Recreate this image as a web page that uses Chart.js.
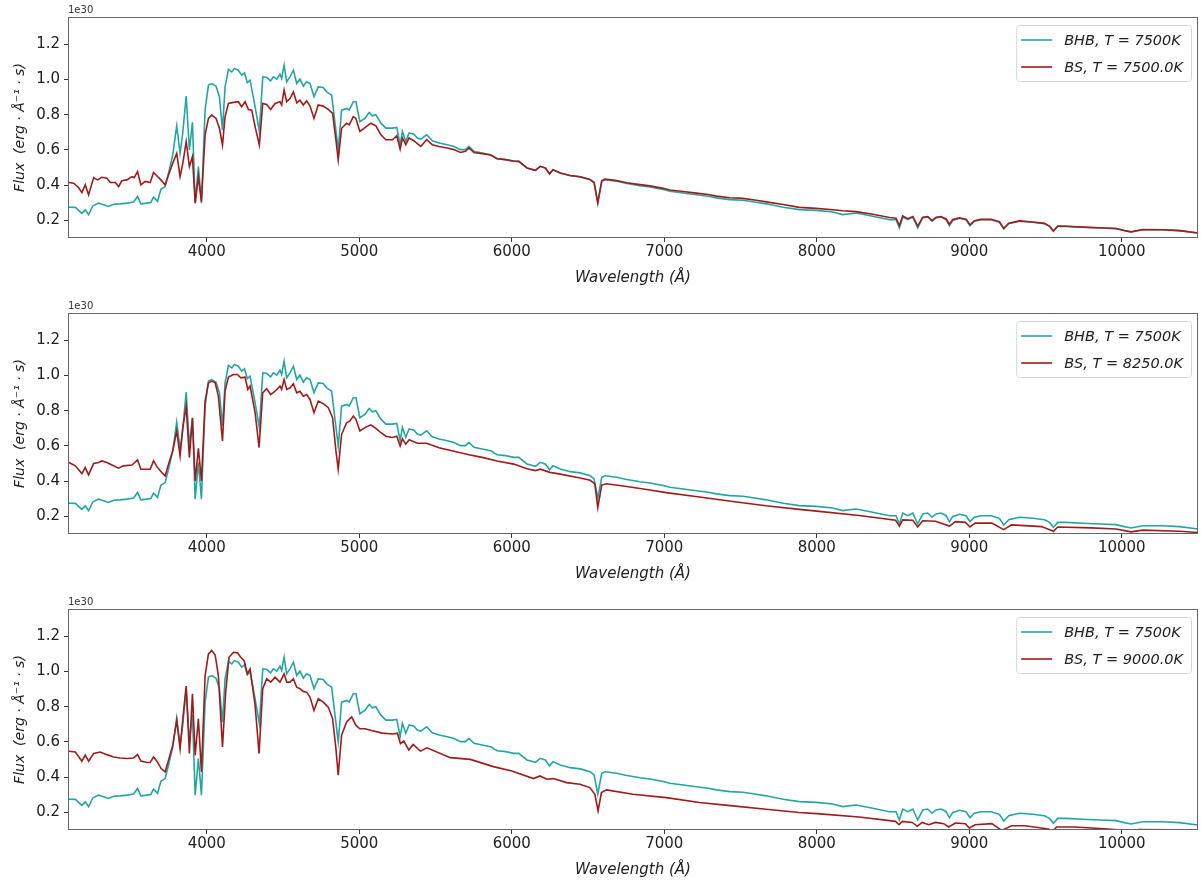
<!DOCTYPE html>
<html>
<head>
<meta charset="utf-8">
<script src="https://cdn.jsdelivr.net/npm/chart.js@4.4.0/dist/chart.umd.min.js"></script>
<style>
  body { margin: 0; background: #fff; width: 1201px; height: 883px; overflow: hidden; position: relative; }
  .panel { position: absolute; left: 0; width: 1201px; height: 296px; }
</style>
</head>
<body>
<div class="panel" style="top:0px"><canvas id="c0" width="1201" height="296"></canvas></div>
<div class="panel" style="top:296px"><canvas id="c1" width="1201" height="296"></canvas></div>
<div class="panel" style="top:592px"><canvas id="c2" width="1201" height="296"></canvas></div>
<script>
// axis ticks
const xTicks = [4000, 5000, 6000, 7000, 8000, 9000, 10000];
const yTicks = [0.2, 0.4, 0.6, 0.8, 1.0, 1.2];

// BHB spectrum, T = 7500K (flux in units of 1e30), same in every panel
const bhbWave = [3096,3138,3181,3203,3225,3253,3290,3323,3356,3389,3432,3476,3520,3546,3568,3607,3633,3651,3677,3699,3727,3749,3777,3803,3825,3841,3865,3886,3906,3924,3945,3965,3989,4011,4033,4061,4083,4103,4120,4142,4164,4181,4207,4229,4247,4266,4284,4317,4345,4367,4393,4419,4437,4459,4480,4491,4507,4524,4546,4568,4590,4611,4633,4655,4677,4703,4731,4764,4786,4819,4841,4862,4884,4917,4934,4961,4978,5004,5037,5065,5087,5109,5142,5174,5218,5246,5268,5283,5305,5327,5359,5381,5403,5442,5479,5523,5577,5621,5664,5697,5719,5752,5806,5861,5904,5959,6013,6046,6100,6155,6187,6220,6248,6270,6318,6383,6449,6514,6540,6564,6590,6612,6688,6754,6841,6906,6993,7037,7124,7211,7288,7342,7429,7516,7603,7669,7780,7886,7996,8105,8170,8258,8367,8477,8520,8542,8564,8597,8630,8662,8695,8728,8756,8783,8815,8848,8870,8892,8936,8979,9005,9034,9078,9143,9198,9226,9259,9329,9416,9493,9526,9552,9580,9635,9744,9853,9963,10017,10061,10138,10269,10378,10503];
const bhbFlux = [.275,.274,.240,.260,.232,.283,.298,.289,.279,.292,.294,.298,.304,.336,.294,.298,.302,.332,.308,.377,.392,.468,.572,.736,.581,.685,.906,.600,.757,.298,.506,.298,.826,.968,.977,.962,.902,.713,.958,1.057,1.043,1.062,1.053,1.025,1.038,.983,.996,.845,.704,1.015,1.011,.992,1.015,1.002,1.030,1.006,1.081,.987,1.015,1.053,.977,1.002,.962,.987,.977,.902,.958,.955,.930,.911,.751,.600,.826,.836,.826,.874,.874,.760,.779,.813,.794,.800,.752,.724,.724,.728,.630,.705,.649,.696,.690,.668,.662,.686,.652,.639,.630,.620,.602,.602,.620,.592,.583,.573,.550,.545,.535,.535,.498,.484,.507,.498,.464,.488,.469,.454,.447,.431,.413,.303,.422,.431,.422,.409,.397,.390,.375,.365,.356,.346,.337,.328,.318,.314,.303,.294,.275,.261,.257,.248,.233,.242,.223,.204,.204,.157,.219,.204,.219,.157,.214,.219,.195,.214,.219,.204,.170,.200,.212,.204,.170,.195,.204,.204,.189,.151,.181,.195,.189,.181,.166,.138,.166,.166,.161,.157,.153,.142,.134,.147,.147,.142,.128];

// BS spectrum, T = 7500.0K
const bs7500Wave = [3096,3127,3159,3181,3203,3225,3258,3284,3312,3345,3367,3400,3422,3443,3476,3509,3524,3546,3568,3596,3629,3651,3677,3699,3727,3749,3777,3803,3825,3843,3865,3886,3906,3924,3945,3965,3989,4011,4033,4061,4083,4103,4120,4142,4175,4207,4229,4251,4273,4295,4317,4345,4367,4393,4419,4448,4480,4491,4507,4524,4546,4568,4590,4611,4633,4655,4677,4703,4731,4764,4797,4825,4847,4862,4884,4917,4934,4961,4978,5004,5033,5076,5109,5142,5174,5218,5246,5268,5283,5305,5327,5359,5403,5442,5479,5523,5577,5621,5664,5697,5719,5752,5806,5861,5904,5959,6013,6046,6100,6155,6187,6220,6248,6270,6318,6383,6449,6514,6540,6564,6590,6612,6688,6754,6841,6906,6993,7037,7124,7211,7288,7342,7429,7516,7603,7669,7780,7886,7996,8105,8170,8258,8367,8477,8520,8542,8564,8597,8630,8662,8695,8728,8756,8783,8815,8848,8870,8892,8936,8979,9005,9034,9078,9143,9198,9226,9259,9329,9416,9493,9526,9552,9580,9635,9744,9853,9963,10017,10061,10138,10269,10378,10503];
const bs7500Flux = [.415,.411,.387,.358,.402,.345,.443,.430,.445,.440,.415,.415,.392,.425,.430,.449,.443,.477,.402,.421,.415,.472,.449,.430,.402,.458,.525,.581,.449,.525,.647,.506,.562,.298,.449,.308,.685,.779,.798,.779,.723,.628,.789,.864,.870,.874,.845,.874,.830,.826,.732,.628,.864,.858,.830,.864,.874,.855,.940,.874,.892,.930,.868,.883,.855,.879,.849,.779,.855,.849,.830,.808,.657,.543,.723,.751,.742,.789,.779,.705,.724,.752,.737,.686,.658,.658,.681,.605,.668,.630,.668,.652,.620,.658,.630,.620,.611,.602,.586,.592,.611,.586,.579,.571,.550,.545,.537,.535,.498,.484,.507,.498,.464,.488,.469,.455,.448,.433,.415,.298,.425,.434,.426,.414,.403,.396,.382,.373,.364,.355,.347,.338,.329,.325,.314,.305,.290,.274,.268,.260,.255,.250,.235,.216,.212,.170,.225,.210,.222,.168,.218,.222,.200,.218,.222,.208,.178,.205,.214,.206,.175,.198,.206,.206,.192,.155,.184,.197,.191,.183,.168,.140,.168,.167,.162,.158,.154,.143,.135,.148,.147,.142,.128];

// BS spectrum, T = 8250.0K
const bs8250Wave = [3096,3138,3181,3203,3225,3258,3290,3312,3345,3378,3422,3454,3509,3546,3568,3607,3629,3651,3677,3705,3727,3749,3777,3803,3825,3843,3865,3886,3906,3924,3945,3965,3989,4011,4033,4055,4076,4103,4120,4142,4175,4201,4223,4251,4269,4284,4317,4343,4367,4393,4419,4448,4480,4491,4507,4524,4546,4568,4590,4611,4633,4655,4677,4703,4731,4764,4797,4825,4847,4862,4884,4917,4939,4961,4978,5004,5037,5076,5109,5142,5174,5218,5246,5268,5283,5305,5327,5381,5442,5523,5621,5719,5806,5904,6013,6100,6155,6187,6250,6318,6449,6514,6545,6564,6590,6621,6754,6906,7013,7231,7449,7667,7885,8000,8278,8517,8542,8564,8630,8662,8695,8778,8870,8909,8974,9005,9039,9148,9226,9278,9474,9552,9580,9800,9963,10061,10138,10378,10503];
const bs8250Flux = [.506,.487,.443,.477,.436,.500,.506,.515,.506,.492,.474,.487,.492,.521,.468,.468,.468,.515,.477,.449,.430,.496,.572,.685,.543,.704,.826,.534,.760,.402,.587,.402,.855,.958,.968,.958,.883,.628,.911,.991,1.006,1.006,.987,.991,.921,.940,.789,.591,.902,.925,.892,.911,.940,.921,.977,.921,.930,.953,.902,.911,.883,.892,.864,.789,.855,.840,.817,.760,.572,.468,.666,.732,.742,.770,.751,.685,.704,.720,.700,.675,.655,.648,.655,.600,.640,.610,.635,.615,.615,.590,.570,.550,.535,.515,.497,.470,.460,.468,.450,.440,.418,.405,.385,.250,.378,.385,.370,.350,.335,.310,.285,.260,.240,.230,.205,.178,.145,.180,.178,.140,.175,.172,.145,.170,.166,.140,.162,.162,.125,.152,.142,.115,.140,.135,.128,.112,.122,.116,.108];

// BS spectrum, T = 9000.0K
const bs9000Wave = [3096,3138,3181,3203,3225,3258,3301,3345,3389,3432,3476,3520,3546,3568,3607,3629,3651,3673,3701,3727,3749,3777,3803,3825,3843,3865,3886,3906,3924,3945,3965,3989,4011,4033,4055,4076,4103,4124,4146,4175,4201,4223,4245,4266,4284,4317,4343,4367,4393,4419,4448,4480,4507,4524,4546,4568,4590,4611,4633,4655,4677,4703,4731,4764,4797,4825,4847,4862,4884,4917,4950,4978,5004,5037,5080,5150,5220,5250,5270,5292,5325,5353,5401,5444,5597,5728,5880,6000,6142,6185,6229,6272,6359,6447,6512,6545,6566,6588,6621,6795,7013,7231,7449,7667,7885,8000,8278,8517,8539,8561,8626,8659,8691,8735,8778,8833,8865,8909,8974,9000,9039,9148,9213,9278,9365,9474,9517,9552,9572,9691,9800,9909,9990,10050,10110,10322,10400,10503];
const bs9000Flux = [.547,.543,.491,.525,.491,.534,.543,.528,.515,.509,.506,.509,.528,.491,.483,.483,.515,.491,.449,.430,.496,.581,.723,.562,.732,.917,.534,.874,.525,.732,.430,.977,1.100,1.119,1.094,.977,.572,.883,1.081,1.109,1.106,1.081,1.062,.987,1.015,.808,.534,.902,.958,.940,.968,.940,.987,.940,.940,.958,.911,.902,.887,.883,.855,.779,.845,.826,.798,.732,.562,.411,.638,.713,.742,.694,.675,.675,.665,.650,.645,.650,.590,.605,.554,.586,.548,.567,.511,.501,.460,.435,.392,.407,.388,.392,.369,.360,.341,.303,.209,.313,.328,.303,.284,.256,.237,.218,.199,.193,.174,.149,.130,.149,.143,.121,.143,.130,.143,.136,.117,.140,.136,.111,.130,.136,.098,.124,.124,.111,.105,.095,.117,.117,.111,.105,.100,.082,.102,.101,.090,.085];

const panels = [
  { id: 'c0', label: 'BS, T = 7500.0K', wave: bs7500Wave, flux: bs7500Flux },
  { id: 'c1', label: 'BS, T = 8250.0K', wave: bs8250Wave, flux: bs8250Flux },
  { id: 'c2', label: 'BS, T = 9000.0K', wave: bs9000Wave, flux: bs9000Flux }
];

const TEAL = '#22a6a4';
const RED = '#a11b1b';
const FONT = '"DejaVu Sans", sans-serif';

function toPoints(w, f) {
  return w.map((x, i) => ({ x: x, y: f[i] }));
}

// frame, offset text and legend in the upper right corner
const extras = {
  id: 'extras',
  afterDraw(chart) {
    const ctx = chart.ctx;
    const a = chart.chartArea;
    ctx.save();
    ctx.strokeStyle = '#666';
    ctx.lineWidth = 1;
    ctx.strokeRect(a.left + 0.5, a.top + 0.5, a.right - a.left - 1, a.bottom - a.top - 1);

    ctx.fillStyle = '#333';
    ctx.font = '10px ' + FONT;
    ctx.textBaseline = 'bottom';
    ctx.textAlign = 'left';
    ctx.fillText('1e30', a.left, a.top - 2);

    const items = chart.data.datasets.map(d => ({ text: d.label, color: d.borderColor }));
    ctx.font = 'italic 14.5px ' + FONT;
    const tw = Math.max(...items.map(it => ctx.measureText(it.text).width));
    const w = 48 + tw + 8, h = 56;
    const x0 = a.right - 7 - w, y0 = a.top + 8;
    ctx.beginPath();
    ctx.roundRect(x0 + 0.5, y0 + 0.5, w, h, 3);
    ctx.fillStyle = 'rgba(255,255,255,0.8)';
    ctx.fill();
    ctx.strokeStyle = '#d6d6d6';
    ctx.stroke();
    ctx.textBaseline = 'middle';
    items.forEach((it, k) => {
      const y = y0 + 15 + k * 27;
      ctx.strokeStyle = it.color;
      ctx.lineWidth = 1.6;
      ctx.beginPath();
      ctx.moveTo(x0 + 5, y);
      ctx.lineTo(x0 + 36, y);
      ctx.stroke();
      ctx.fillStyle = '#222';
      ctx.fillText(it.text, x0 + 48, y + 1);
    });
    ctx.restore();
  }
};

panels.forEach(p => {
  new Chart(document.getElementById(p.id).getContext('2d'), {
    type: 'line',
    data: {
      datasets: [
        { label: 'BHB, T = 7500K', data: toPoints(bhbWave, bhbFlux), borderColor: TEAL, borderWidth: 1.6, pointRadius: 0, order: 2 },
        { label: p.label, data: toPoints(p.wave, p.flux), borderColor: RED, borderWidth: 1.6, pointRadius: 0, order: 1 }
      ]
    },
    options: {
      responsive: false,
      animation: false,
      devicePixelRatio: 1,
      layout: { padding: { top: 17, right: 3, left: 0, bottom: 0 } },
      plugins: { legend: { display: false }, tooltip: { enabled: false } },
      elements: { line: { tension: 0 } },
      scales: {
        x: {
          type: 'linear',
          min: 3090,
          max: 10500,
          afterBuildTicks: axis => { axis.ticks = xTicks.map(v => ({ value: v })); },
          afterFit: axis => { axis.height = 58; },
          ticks: { callback: v => String(v), color: '#222', font: { family: FONT, size: 15 }, padding: 1, maxRotation: 0, autoSkip: false },
          grid: { drawOnChartArea: false, drawTicks: true, tickLength: 4, color: '#333' },
          border: { display: false },
          title: { display: true, text: 'Wavelength (Å)', color: '#222', font: { family: FONT, size: 15, style: 'italic' }, padding: { top: 0, bottom: 9 } }
        },
        y: {
          min: 0.1,
          max: 1.355,
          afterBuildTicks: axis => { axis.ticks = yTicks.map(v => ({ value: v })); },
          afterFit: axis => { axis.width = 68; },
          ticks: { callback: v => v.toFixed(1), color: '#222', font: { family: FONT, size: 15 }, padding: 4, autoSkip: false },
          grid: { drawOnChartArea: false, drawTicks: true, tickLength: 4, color: '#333' },
          border: { display: false },
          title: { display: true, text: 'Flux  (erg · Å⁻¹ · s)', color: '#222', font: { family: FONT, size: 14, style: 'italic' }, padding: { top: 12, bottom: 0 } }
        }
      }
    },
    plugins: [extras]
  });
});
</script>
</body>
</html>
